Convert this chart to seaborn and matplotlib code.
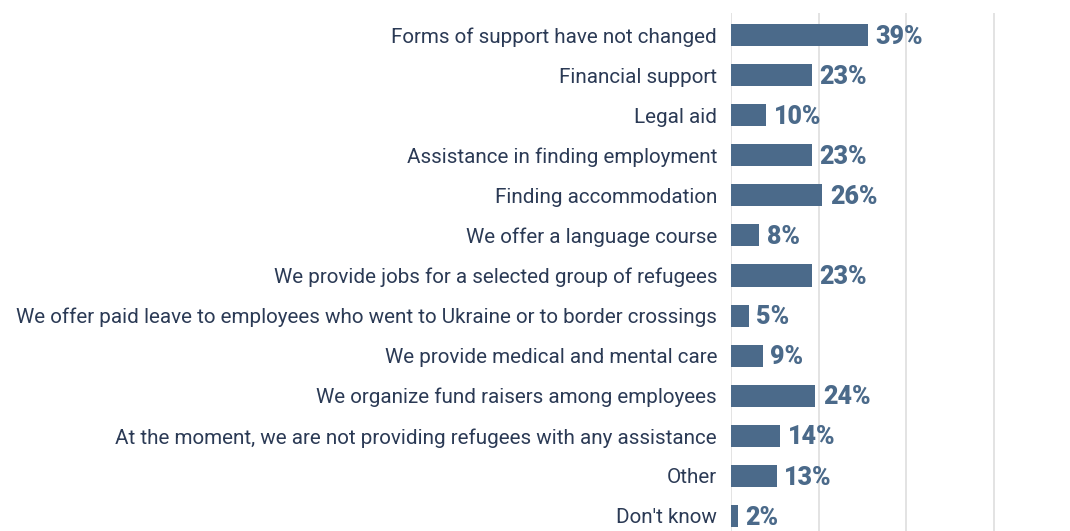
import matplotlib
matplotlib.use("Agg")
import matplotlib.pyplot as plt
import seaborn as sns
import pandas as pd

categories = [
    "Forms of support have not changed",
    "Financial support",
    "Legal aid",
    "Assistance in finding employment",
    "Finding accommodation",
    "We offer a language course",
    "We provide jobs for a selected group of refugees",
    "We offer paid leave to employees who went to Ukraine or to border crossings",
    "We provide medical and mental care",
    "We organize fund raisers among employees",
    "At the moment, we are not providing refugees with any assistance",
    "Other",
    "Don't know",
]
values = [39, 23, 10, 23, 26, 8, 23, 5, 9, 24, 14, 13, 2]
ticks = [0, 25, 50, 75]

bar_color = "#4b6a8a"
text_color = "#2b3a55"
grid_color = "#dedede"

sns.set_theme(style="white")
plt.rcParams["font.family"] = ["Roboto", "DejaVu Sans"]

df = pd.DataFrame({"category": categories, "value": values})

fig = plt.figure(figsize=(10.70, 5.31), dpi=100)
ax = fig.add_axes([731 / 1070, 0.0, 1 - 731 / 1070, 1 - 13 / 531])

sns.barplot(data=df, x="value", y="category", color=bar_color, width=0.55,
            saturation=1, linewidth=0, ax=ax, zorder=3)

ax.set_xlim(0, 96.7)
ax.set_ylim(len(categories) - 1 + 0.375, -0.55)
ax.set_xticks(ticks)
ax.xaxis.grid(True, color=grid_color, linewidth=1.2, zorder=0)
ax.yaxis.grid(False)
ax.tick_params(axis="x", labelbottom=False, length=0)
ax.tick_params(axis="y", length=0, pad=10, labelsize=14.85, labelcolor=text_color)
ax.set_xlabel("")
ax.set_ylabel("")
for s in ax.spines.values():
    s.set_visible(False)

for i, v in enumerate(values):
    ax.annotate(f"{v}%", xy=(v, i), xytext=(5.5, -1.2), textcoords="offset points",
                va="center", ha="left", fontsize=18, fontweight="heavy",
                color=bar_color)

fig.savefig("out.png", dpi=100)
